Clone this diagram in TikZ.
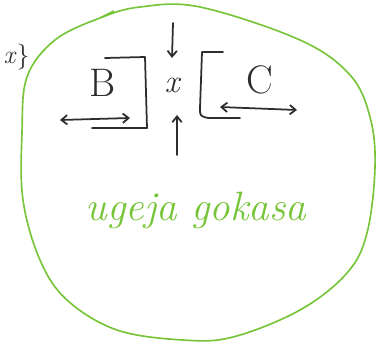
\documentclass[tikz,border=0pt]{standalone}
\usepackage{amsmath,amssymb}
\usepackage{tikz}
\usetikzlibrary{arrows.meta}
\definecolor{handgreen}{RGB}{118,196,56}
\definecolor{ink}{RGB}{45,45,45}

\begin{document}
\begin{tikzpicture}[x=0.03cm,y=-0.03cm,>={Straight Barb[length=5pt,width=8pt]},
  pen/.style={ink,line width=1.5pt,line cap=round,line join=round},
  blob/.style={handgreen,line width=1.4pt}]
  \useasboundingbox (0,0) rectangle (377,345);
  % region outline
  \draw[blob] plot[smooth cycle,tension=0.6] coordinates {(27,77) (55,40) (100,18) (140,7) (200,7)
    (300,40) (350,75) (370,117) (375,167) (367,233) (347,273) (300,310) (233,337)
    (183,340) (117,330) (67,300) (40,260) (23,200) (22,133)};
  \draw[blob] (100,18) -- (114,11);
  \node[ink,anchor=east,font=\fontsize{22}{22}\selectfont,inner sep=1pt] (brace) at (31,57) {\textit{x}\}};
  % B
  \draw[pen] (105,58) -- (145,57) -- (147,128) -- (92,128);
  \node[ink,font=\fontsize{34}{34}\selectfont] (B) at (103,83) {B};
  \coordinate (bl) at (60,120);
  \coordinate (br) at (130,118);
  \draw[pen,<->] (bl) -- (br);
  % x in the middle
  \node[ink,font=\itshape\fontsize{28}{28}\selectfont,inner sep=1pt] (x) at (172,85) {x};
  \coordinate (top) at (173,23);
  \coordinate (bot) at (177,155);
  \draw[pen,->] (top) -- (172,58);
  \draw[pen,->] (bot) -- (177,115);
  % C
  \draw[pen] (223,52) -- (202,52) -- (200,108) .. controls (200,116) .. (208,118) -- (240,118);
  \node[ink,font=\fontsize{34}{34}\selectfont] (C) at (260,80) {C};
  \coordinate (cl) at (220,107);
  \coordinate (cr) at (297,110);
  \draw[pen,<->] (cl) -- (cr);
  % label
  \node[handgreen,font=\itshape\fontsize{35}{35}\selectfont] (lbl) at (196,210) {ugeja gokasa};
\end{tikzpicture}
\end{document}
